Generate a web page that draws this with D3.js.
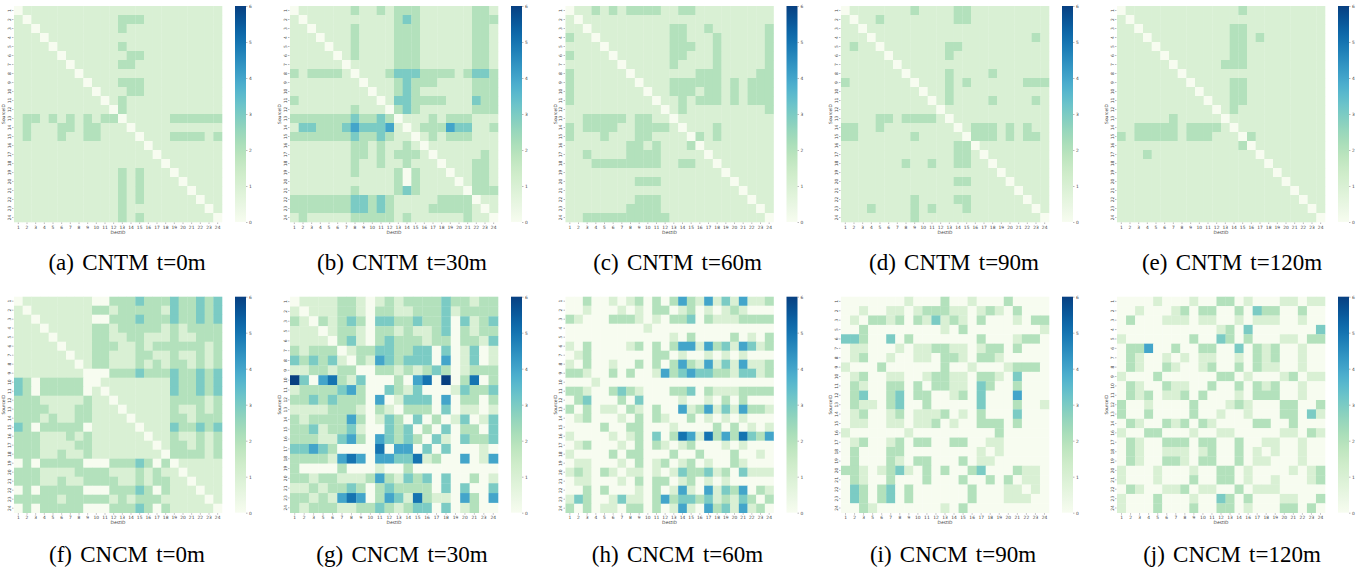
<!DOCTYPE html>
<html>
<head>
<meta charset="utf-8">
<script src="https://cdn.jsdelivr.net/npm/d3@7"></script>
<style>
  body { margin: 0; background: #fff; }
  .tick text, .axis-title { font-family: "DejaVu Sans"; fill: #444; }
  .caption { font-family: "Liberation Serif"; font-size: 23px; fill: #000; word-spacing: 2.5px; }
</style>
</head>
<body>
<div id="chart"></div>
<script>
// source/dest ids, a few runs lost a node
var ids24 = d3.range(1, 25);
var idsNo4 = ids24.filter(function(d) { return d != 4; });
var idsNo4and22 = idsNo4.filter(function(d) { return d != 22; });
var idsNo15 = ids24.filter(function(d) { return d != 15; });

var colorbarTicks = [0, 1, 2, 3, 4, 5, 6];

var captions = ['(a) CNTM t=0m', '(b) CNTM t=30m', '(c) CNTM t=60m', '(d) CNTM t=90m', '(e) CNTM t=120m',
                '(f) CNCM t=0m', '(g) CNCM t=30m', '(h) CNCM t=60m', '(i) CNCM t=90m', '(j) CNCM t=120m'];

// hop counts, one string per source row
var cntm0 = [
  '011111111111 111111111111', '101111111111 222111111111', '110111111111 211111111111', '111011111111 111111111111',
  '111101111111 211111111111', '111110111111 122111111111', '111111011111 221111111111', '111111101111 111111111111',
  '111111110111 222111111111', '111111111011 122111111111', '111111111101 211111111111', '111111111110 211111111111',
  '122121212122 011111222222', '121112212211 101111111111', '121112112211 110111222212', '111111111111 111011111111',
  '111111111111 111101111111', '111111111111 111110111111', '111111111111 212111011111', '111111111111 212111101111',
  '111111111111 212111110111', '111111111111 212111111011', '111111111111 211111111101', '111111111111 212111111110'];

var cntm30 = [
  '011111121121 222111111221', '101111111111 232111111222', '110111121111 222111111221', '111011121111 222111111221',
  '111101121111 222111111221', '111110121111 222111111221', '111111011111 222111111221', '212222101112 333222212332',
  '111111110111 232221111222', '111111111011 232111111222', '211111111101 332222111322', '111111121110 232111111222',
  '222222232232 011121222111', '133222343334 101222433112', '222222232232 110121222111', '111111122121 121011111111',
  '111111122121 222101111121', '111111121121 121110111221', '111111121111 202111011221', '111111111111 202111101221',
  '111111121111 232111110222', '222222233232 111112222011', '222222233232 111122222101', '121111122222 121111112110'];

var cntm60 = [
  '011212122221 122111111111', '101111111111 111111111111', '110111111111 221121111112', '211011111111 221112111112',
  '111101111111 222112111112', '211110111111 221112111112', '111111011111 211112111112', '211111101111 111222111122',
  '211111110111 222222121222', '211111111011 222122121222', '211111111101 121222121222', '111111111110 121111111112',
  '112222212211 011111111111', '212222112222 101112111111', '211121112211 110212111111', '111111122121 112011111111',
  '112111122221 111101111111', '111222222221 122110111111', '111111111111 111111011111', '111111112221 111111101111',
  '111111111111 111111110111', '111111112221 111111111011', '111111122221 111111111101', '112222222222 111111111110'];

var cntm90 = [
  '011111112111 122111111111', '101121111111 122111111111', '110111111111 111111111111', '111011111111 111111111121',
  '121101111111 221111111111', '111110111111 211111111111', '111111011111 111111111111', '111111101111 211112111111',
  '211111110111 212111111222', '111111111011 211111111111', '111111111101 211112111121', '111111111110 111111111111',
  '111122122221 011111111111', '221121111111 101222121211', '221111112111 110222121221', '111111111111 122011111111',
  '111111111111 122101111111', '111111121121 122110111111', '111111111111 111111011111', '111111111111 122111101111',
  '111111111111 111111110111', '111111112111 122111111011', '111211112121 112111111101', '111111112111 111111111110'];

var cntm120 = [
  '011111111111 112111111111', '101111111111 111111111111', '110111111111 122111111111', '111011111111 122121111111',
  '111101111111 122111111111', '111110111111 122111111111', '111111011111 222111111111', '111111101111 111111111111',
  '111111110111 122111111111', '111111111011 122111111111', '111111111101 122111111111', '111111111110 121111111111',
  '111111211111 011111111111', '112222212222 101111111111', '212222212221 110211111111', '111111111111 112011111111',
  '111211111111 111101111111', '111111111111 111110111111', '111111111111 111111011111', '111111111111 111111101111',
  '111111111111 111111110111', '111111111111 111111111011', '111111111111 111111111101', '111111111111 111111111110'];

var cncm0 = [
  '011111111002 223222322323', '101111111221 222221322323', '110111111002 223222322323', '111011111221 222221212222',
  '111101111221 122111211222', '111110111222 112122222212', '111111011221 112211211212', '111111101221 112121221212',
  '111111110002 223222322323', '320222220011 111111322323', '320222220101 111111322323', '222111112110 111111222212',
  '222211122111 011111211212', '222121122111 101111221222', '320222220111 110111322323', '222111212111 111011211212',
  '222111122111 111101221212', '222112112111 111110222212', '020222220002 223202011111', '222111122221 112121101111',
  '222112112222 112122110111', '020222220002 223202111011', '222221222221 212221111101', '020222220002 223202111110'];

var cncm30 = [
  '01111 22101 21222 23221 22', '10111 22102 21122 23122 22', '21021 23203 32232 23031 23', '11101 22102 21211 23021 22',
  '11110 23102 32221 22022 13', '21222 01223 32233 03013 01', '32323 10214 32333 04013 01', '11221 22002 21212 32012 22',
  '63045 21300 02045 06025 02', '12222 34200 32130 00132 23', '22323 22204 01333 04022 02', '11112 22102 10222 03011 01',
  '21222 24201 32030 20130 13', '22312 23100 32302 03022 03', '22211 34204 32320 31032 23', '33432 00005 04403 03000 10',
  '22221 45404 43351 20040 14', '20000 20001 00200 00000 00', '22122 11124 21323 03002 01', '11212 23202 32222 03030 03',
  '22121 45402 43152 11042 04', '21222 11223 21233 03012 00'];

var cncm60 = [
  '002001012020 242141314112', '001000101022 012010121000', '210002221010 223021112222', '000000000100 000000000000',
  '000000000000 102000020102', '102000012020 244142314312', '012000000022 010010101000', '102001002020 242141314112',
  '221002020014 234332213312', '000100000000 000000000000', '221002321000 223021112222', '023000203000 010010202000',
  '202011021020 041241314221', '012000102021 002010101000', '000020022000 100002020101', '100001012030 254152425324',
  '012000102021 012000101000', '100002022000 200200020010', '011000102012 012010021000', '121021011010 132231203111',
  '011000102022 012010100000', '002020001020 141041324021', '132001311024 233231213202', '202011022020 141042314120'];

var cncm90 = [
  '00000 00100 02001 00020 000', '00100 11012 22110 12102 000', '01022 12021 31210 20001 022', '00200 00000 01020 00000 001',
  '33200 30200 00000 20001 220', '01100 01011 22110 12202 000', '01200 10011 02210 22100 000', '10002 00000 02001 00012 220',
  '01200 11001 22110 22103 000', '02100 22020 22110 32002 000', '02300 23022 00120 30004 000', '02110 23002 00000 30002 001',
  '01200 12011 12010 20003 000', '01100 11011 20100 22202 000', '10000 00100 00000 00200 000', '01200 12022 00220 01100 000',
  '02000 22000 00000 10100 000', '02000 21022 00020 11000 000', '22101 23102 02002 30002 110', '02100 20002 00020 02020 110',
  '03202 30200 00002 00011 010', '03202 30200 00002 00011 100', '00210 00000 01020 00000 000'];

var cncm120 = [
  '00001 00010 02201 00011 011', '00100 01202 20020 32200 200', '02000 11101 10010 11100 100', '00000 00000 01203 00000 003',
  '10000 00020 03202 00011 022', '02240 02002 20030 21200 100', '02100 10101 10010 21200 100', '02100 21001 20020 21100 100',
  '10002 00000 02201 00012 011', '02100 21100 20020 21200 100', '02120 11202 00010 22200 100', '20010 00020 00121 00022 002',
  '20020 00020 01001 00022 031', '02100 21202 10000 22002 000', '10022 00010 01100 00011 021', '02100 22202 20020 01100 100',
  '02100 11101 20020 10100 100', '02100 22102 20020 11000 100', '10001 00010 02201 00001 012', '10001 00020 02201 00100 012',
  '02100 11201 10020 11100 000', '10002 00010 03202 00011 002', '10002 00020 02201 00022 020'];

var matrices = [cntm0, cntm30, cntm60, cntm90, cntm120, cncm0, cncm30, cncm60, cncm90, cncm120];
var idLists = [ids24, ids24, ids24, ids24, ids24, ids24, idsNo4and22, ids24, idsNo4, idsNo15];

var mapLeft = [14, 290, 565.5, 841, 1117, 14, 290, 565.5, 841, 1117];
var captionX = [127, 402, 677.5, 954, 1232, 127, 402, 677.5, 953, 1232];
var rowTop = [6, 296.7];
var captionY = [270, 562];
var mapSize = 208;
var mapHeight = 216;
var barGap = 13;
var barWidth = 11;

var color = d3.scaleSequential(d3.interpolateGnBu).domain([0, 6]);

var svg = d3.select('#chart').append('svg')
    .attr('width', 1367)
    .attr('height', 569);

// gradient for the colorbars
var grad = svg.append('defs').append('linearGradient')
    .attr('id', 'cbar')
    .attr('x1', 0).attr('x2', 0).attr('y1', 1).attr('y2', 0);
d3.range(0, 61).forEach(function(i) {
  grad.append('stop')
      .attr('offset', (i / 60))
      .attr('stop-color', color(i / 10));
});

function drawPanel(rows, ids, i) {
  var top = rowTop[i < 5 ? 0 : 1];
  var g = svg.append('g')
      .attr('transform', 'translate(' + mapLeft[i] + ',' + top + ')');

  var xScale = d3.scaleBand().domain(ids).range([0, mapSize]);
  var yScale = d3.scaleBand().domain(ids).range([0, mapHeight]);

  var cells = [];
  rows.forEach(function(row, r) {
    row.replace(/ /g, '').split('').forEach(function(v, c) {
      cells.push({source: ids[r], dest: ids[c], value: +v});
    });
  });

  g.selectAll('rect.cell')
      .data(cells)
    .enter().append('rect')
      .attr('class', 'cell')
      .attr('x', function(d) { return xScale(d.dest); })
      .attr('y', function(d) { return yScale(d.source); })
      .attr('width', xScale.bandwidth() + 0.3)
      .attr('height', yScale.bandwidth() + 0.3)
      .attr('fill', function(d) { return color(d.value); });

  var xAxis = d3.axisBottom(xScale).tickSize(1.5).tickPadding(1.5);
  var yAxis = d3.axisLeft(yScale).tickSize(1.5).tickPadding(1.5);

  var gx = g.append('g')
      .attr('transform', 'translate(0,' + (mapHeight + 0.5) + ')')
      .call(xAxis);
  var gy = g.append('g')
      .attr('transform', 'translate(-0.5,0)')
      .call(yAxis);

  [gx, gy].forEach(function(a) {
    a.select('.domain').remove();
    a.selectAll('.tick line').attr('stroke', '#555').attr('stroke-width', 0.4);
    a.selectAll('.tick text').style('font-size', '4.4px');
  });
  gy.selectAll('.tick text')
      .attr('text-anchor', 'middle')
      .attr('dy', 0)
      .attr('x', 0)
      .attr('y', 0)
      .attr('transform', 'translate(-2.8,0) rotate(-90)');

  g.append('text')
      .attr('class', 'axis-title')
      .attr('x', mapSize / 2)
      .attr('y', mapHeight + 11.5)
      .attr('text-anchor', 'middle')
      .style('font-size', '4.4px')
      .text('DestID');
  g.append('text')
      .attr('class', 'axis-title')
      .attr('transform', 'translate(-8.6,' + (mapHeight / 2) + ') rotate(-90)')
      .attr('text-anchor', 'middle')
      .style('font-size', '4.4px')
      .text('SourceID');

  // colorbar
  var bar = g.append('g')
      .attr('transform', 'translate(' + (mapSize + barGap) + ',0)');
  bar.append('rect')
      .attr('width', barWidth)
      .attr('height', mapHeight)
      .attr('fill', 'url(#cbar)');

  var barScale = d3.scaleLinear().domain([0, 6]).range([mapHeight, 0]);
  var gb = bar.append('g')
      .attr('transform', 'translate(' + barWidth + ',0)')
      .call(d3.axisRight(barScale).tickValues(colorbarTicks).tickFormat(d3.format('d')).tickSize(1.5).tickPadding(1.5));
  gb.select('.domain').remove();
  gb.selectAll('.tick line').attr('stroke', '#555').attr('stroke-width', 0.4);
  gb.selectAll('.tick text').style('font-size', '4.4px');

  svg.append('text')
      .attr('class', 'caption')
      .attr('x', captionX[i])
      .attr('y', captionY[i < 5 ? 0 : 1])
      .attr('text-anchor', 'middle')
      .text(captions[i]);
}

matrices.forEach(function(m, i) {
  drawPanel(m, idLists[i], i);
});
</script>
</body>
</html>
